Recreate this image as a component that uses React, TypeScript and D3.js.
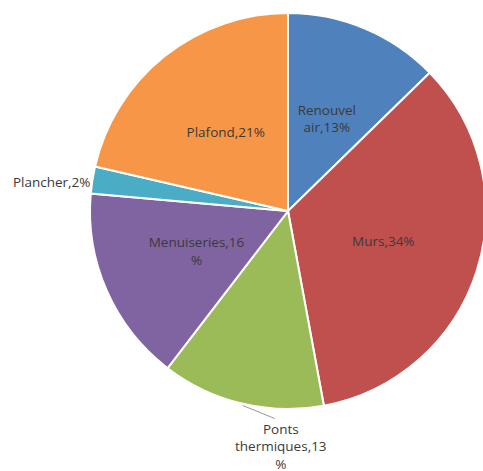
import React, { useRef, useEffect } from 'react';
import * as d3 from 'd3';

// Répartition des déperditions thermiques
const categories = ['Renouvel air', 'Murs', 'Ponts thermiques', 'Menuiseries', 'Plancher', 'Plafond'];
const values = [12.7, 34.4, 13.3, 16.0, 2.2, 21.4];
// texte des étiquettes tel qu'Excel le coupe
const labelLines = [
  ['Renouvel', 'air,13%'],
  ['Murs,34%'],
  ['Ponts', 'thermiques,13', '%'],
  ['Menuiseries,16', '%'],
  ['Plancher,2%'],
  ['Plafond,21%'],
];
const outside = [false, false, true, false, true, false];
const colors = ['#4F81BD', '#C0504D', '#9BBB59', '#8064A2', '#4BACC6', '#F79646'];

export default function App() {
  const svgRef = useRef<SVGSVGElement>(null);

  useEffect(() => {
    if (!svgRef.current) return;
    const svg = d3.select(svgRef.current);
    svg.selectAll('*').remove();

    const width = 483;
    const height = 471;
    const cx = 288;
    const cy = 211;
    const radius = 198;
    const lineH = 17.5;
    const fontSize = 13.5;

    const pie = d3.pie<number>().sort(null).value(d => d);
    const arcs = pie(values);
    const arc = d3.arc<d3.PieArcDatum<number>>().innerRadius(0).outerRadius(radius);
    const labelArc = d3.arc<d3.PieArcDatum<number>>().innerRadius(radius).outerRadius(radius);
    const centroidArc = d3.arc<d3.PieArcDatum<number>>().innerRadius(200).outerRadius(0);

    svg.attr('width', width).attr('height', height);
    const g = svg.append('g').attr('transform', `translate(${cx},${cy})`);

    g.selectAll('path.slice')
      .data(arcs)
      .join('path')
      .attr('class', 'slice')
      .attr('d', arc)
      .attr('fill', (_, i) => colors[i])
      .attr('stroke', '#fff')
      .attr('stroke-width', 2);

    const font = "'Open Sans', 'Noto Sans', sans-serif";

    arcs.forEach((a, i) => {
      const lines = labelLines[i];
      if (!outside[i]) {
        const [x, y] = centroidArc.centroid(a);
        const t = g.append('text')
          .attr('text-anchor', 'middle')
          .attr('font-family', font)
          .attr('font-size', fontSize)
          .attr('fill', '#3a3a3a');
        lines.forEach((l, k) => {
          t.append('tspan')
            .attr('x', x)
            .attr('y', y + (k - (lines.length - 1) / 2) * lineH + 4.5)
            .text(l);
        });
      } else {
        const [ex, ey] = labelArc.centroid(a);
        const mid = (a.startAngle + a.endAngle) / 2;
        if (Math.cos(mid) < -0.5) {
          // étiquette sous le camembert avec trait de rappel
          const lx = ex + 33;
          const ly = ey + 15;
          g.append('line')
            .attr('x1', ex + 1).attr('y1', ey + 2)
            .attr('x2', lx).attr('y2', ly)
            .attr('stroke', '#999')
            .attr('stroke-width', 1);
          const t = g.append('text')
            .attr('text-anchor', 'middle')
            .attr('font-family', font)
            .attr('font-size', fontSize)
            .attr('fill', '#3a3a3a');
          lines.forEach((l, k) => {
            t.append('tspan')
              .attr('x', lx + 6)
              .attr('y', ly + 15 + k * lineH)
              .text(l);
          });
        } else {
          g.append('text')
            .attr('x', ex - 2)
            .attr('y', ey + 7)
            .attr('text-anchor', 'end')
            .attr('font-family', font)
            .attr('font-size', fontSize)
            .attr('fill', '#3a3a3a')
            .text(lines.join(' '));
        }
      }
    });
  }, []);

  return (
    <div style={{ position: 'absolute', left: 0, top: 0, background: '#fff' }}>
      <svg ref={svgRef} style={{ display: 'block' }} />
    </div>
  );
}
